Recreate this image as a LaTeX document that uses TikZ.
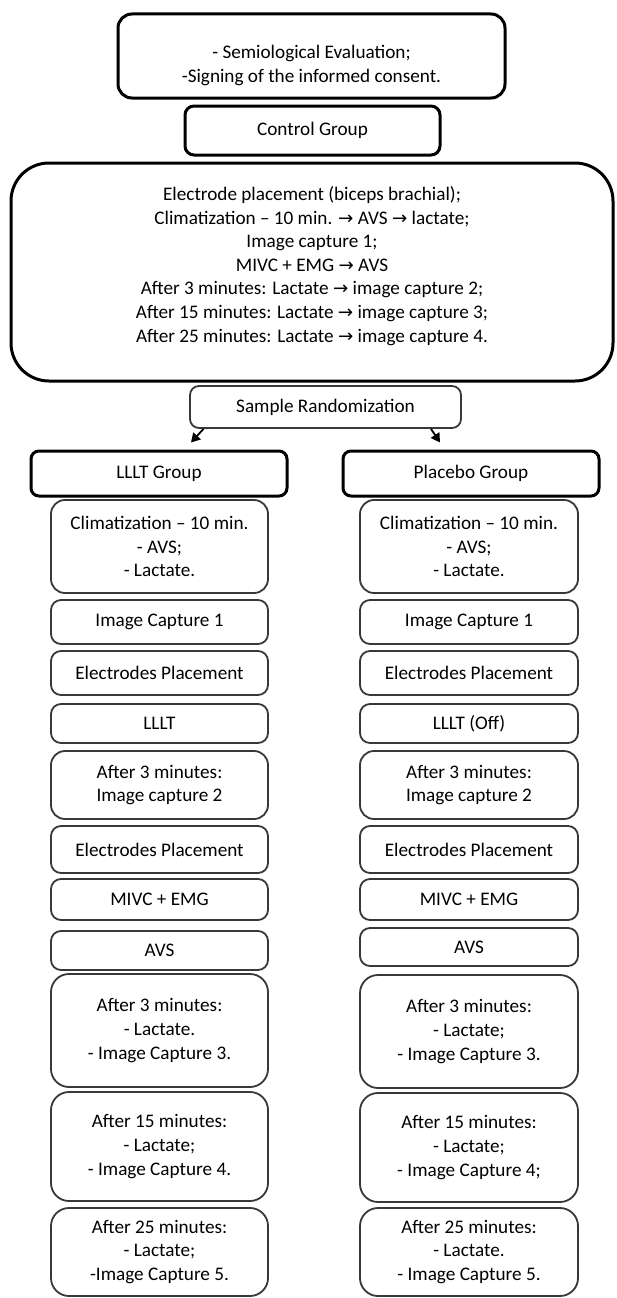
\documentclass[tikz,border=0pt]{standalone}
\usepackage{fontspec}
\setmainfont{Carlito}
\newfontfamily\arrowfont{DejaVu Sans}[Scale=0.95]
\newcommand\ra{{\arrowfont →}}
\usetikzlibrary{arrows.meta}
\newcommand\mkbox[7]{%
  \pgfmathsetmacro\bxcx{(#3+#5)/2}\pgfmathsetmacro\bxcy{(#4+#6)/2}%
  \pgfmathsetmacro\bxw{#5-#3}\pgfmathsetmacro\bxh{#6-#4}%
  \node[#1, minimum width=\bxw pt, minimum height=\bxh pt] (#2) at (\bxcx,\bxcy) {#7};}
\begin{document}
\begin{tikzpicture}[x=1pt,y=-1pt,
  txt/.style={font=\fontsize{19.2pt}{23.6pt}\selectfont, align=center, text=black, inner sep=0pt},
  thickbox/.style={txt, draw=black, line width=3pt, rectangle},
  thinbox/.style={txt, draw=black!78, line width=1.8pt, rectangle},
  arr/.style={draw=black, line width=1.8pt, -{Triangle[length=9pt,width=10pt]}}
]
\useasboundingbox (0,0) rectangle (617,1298);
% top part
\mkbox{thickbox, rounded corners=14pt}{top}{118}{14}{505}{98}{}
\node[txt] (toptext) at (311.5,65.5) {- Semiological Evaluation;\\-Signing of the informed consent.};
\mkbox{thickbox, rounded corners=9pt}{ctrl}{185}{106}{440}{155}{Control Group}
\mkbox{thickbox, rounded corners=38pt}{big}{11}{163}{613}{381}{}
\node[txt] (bigtext) at (312,266) {Electrode placement (biceps brachial);\\
Climatization -- 10 min. \ra{} AVS \ra{} lactate;\\
Image capture 1;\\
MIVC + EMG \ra{} AVS\\
After 3 minutes: Lactate \ra{} image capture 2;\\
After 15 minutes: Lactate \ra{} image capture 3;\\
After 25 minutes: Lactate \ra{} image capture 4.};
\mkbox{thinbox, rounded corners=9pt}{sr}{190}{386}{461}{428}{Sample Randomization}
\mkbox{thickbox, rounded corners=8pt}{lg}{31}{451}{287}{496}{LLLT Group}
\mkbox{thickbox, rounded corners=8pt}{pg}{343}{451}{599}{496}{Placebo Group}
\draw[arr] ([xshift=-122pt]sr.south) -- ([xshift=32pt,yshift=7pt]lg.north);
\draw[arr] ([xshift=105.5pt]sr.south) -- ([xshift=-31pt,yshift=7pt]pg.north);
% left column
\mkbox{thinbox, rounded corners=14pt}{l1}{51}{500}{268}{593}{Climatization -- 10 min.\\- AVS;\\- Lactate.}
\mkbox{thinbox, rounded corners=10pt}{l2}{51}{600}{268}{644}{Image Capture 1}
\mkbox{thinbox, rounded corners=10pt}{l3}{51}{651}{268}{695}{Electrodes Placement}
\mkbox{thinbox, rounded corners=10pt}{l4}{51}{704}{268}{743}{LLLT}
\mkbox{thinbox, rounded corners=14pt}{l5}{51}{751}{268}{819}{After 3 minutes:\\Image capture 2}
\mkbox{thinbox, rounded corners=10pt}{l6}{51}{826}{268}{873}{Electrodes Placement}
\mkbox{thinbox, rounded corners=10pt}{l7}{51}{879}{268}{920}{MIVC + EMG}
\mkbox{thinbox, rounded corners=10pt}{l8}{51}{931}{268}{970}{AVS}
\mkbox{thinbox, rounded corners=18pt}{l9}{51}{974}{268}{1087}{After 3 minutes:\\- Lactate.\\- Image Capture 3.}
\mkbox{thinbox, rounded corners=18pt}{l10}{51}{1092}{268}{1201}{After 15 minutes:\\- Lactate;\\- Image Capture 4.}
\mkbox{thinbox, rounded corners=18pt}{l11}{51}{1208}{268}{1296}{After 25 minutes:\\- Lactate;\\-Image Capture 5.}
% right column
\mkbox{thinbox, rounded corners=14pt}{r1}{360}{500}{578}{593}{Climatization -- 10 min.\\- AVS;\\- Lactate.}
\mkbox{thinbox, rounded corners=10pt}{r2}{360}{600}{578}{644}{Image Capture 1}
\mkbox{thinbox, rounded corners=10pt}{r3}{360}{651}{578}{695}{Electrodes Placement}
\mkbox{thinbox, rounded corners=10pt}{r4}{360}{704}{578}{743}{LLLT (Off)}
\mkbox{thinbox, rounded corners=14pt}{r5}{360}{751}{578}{819}{After 3 minutes:\\Image capture 2}
\mkbox{thinbox, rounded corners=10pt}{r6}{360}{826}{578}{873}{Electrodes Placement}
\mkbox{thinbox, rounded corners=10pt}{r7}{360}{879}{578}{920}{MIVC + EMG}
\mkbox{thinbox, rounded corners=10pt}{r8}{360}{928}{578}{966}{AVS}
\mkbox{thinbox, rounded corners=18pt}{r9}{360}{975}{578}{1088}{After 3 minutes:\\- Lactate;\\- Image Capture 3.}
\mkbox{thinbox, rounded corners=18pt}{r10}{360}{1093}{578}{1202}{After 15 minutes:\\- Lactate;\\- Image Capture 4;}
\mkbox{thinbox, rounded corners=18pt}{r11}{360}{1208}{578}{1296}{After 25 minutes:\\- Lactate.\\- Image Capture 5.}
\end{tikzpicture}
\end{document}
